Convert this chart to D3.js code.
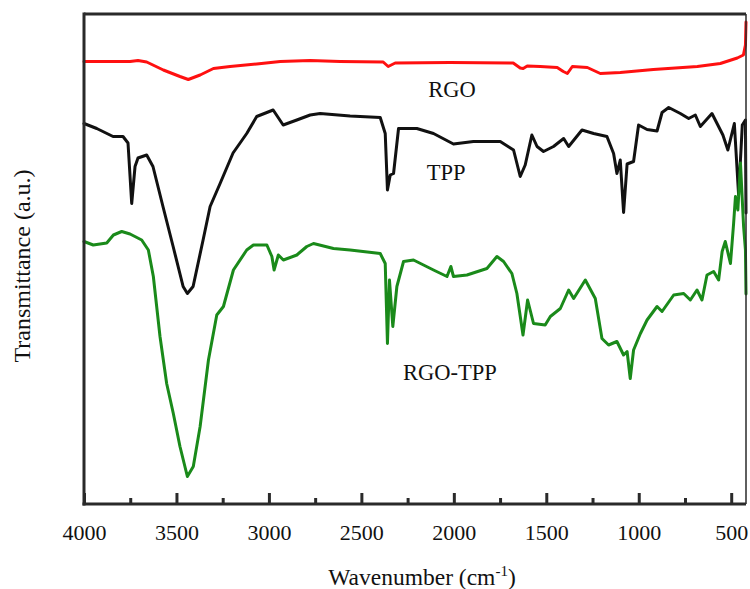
<!DOCTYPE html>
<html>
<head>
<meta charset="utf-8">
<script src="https://cdn.jsdelivr.net/npm/d3@7"></script>
<style>
  html, body { margin: 0; padding: 0; background: #fff; }
  svg { display: block; }
</style>
</head>
<body>
<div id="chart"></div>
<script>
// ---- data (wavenumber in cm-1, transmittance in arbitrary units) ----
const rgoWn = [4000,3751,3708,3661,3571,3481,3436,3372,3300,3210,3066,2939,2777,2615,2382,2355,2317,2020,1679,1641,1625,1603,1533,1441,1408,1386,1359,1278,1208,1100,921,683,559,467,434,423,420];
const rgoT  = [88.5,88.5,88.7,88.4,86.8,85.5,84.9,85.8,87.1,87.5,88.0,88.5,88.7,88.5,88.4,87.5,88.2,88.3,88.2,87.2,87.1,87.6,87.5,87.3,86.5,86.1,87.5,87.3,86.1,86.3,86.9,87.5,88.1,89.2,89.8,91.8,96.4];

const tppWn = [4000,3931,3843,3789,3762,3742,3724,3708,3661,3627,3573,3518,3464,3441,3410,3356,3318,3264,3194,3120,3066,2977,2923,2849,2777,2723,2561,2398,2371,2359,2344,2326,2299,2200,2110,2002,1894,1749,1677,1641,1614,1578,1550,1515,1461,1406,1379,1307,1244,1172,1136,1118,1100,1082,1063,1028,1001,955,901,874,838,775,730,694,667,604,545,518,483,460,440,423,420];
const tppT  = [76.1,75.1,73.5,73.5,72.2,60.1,67.5,69.2,69.8,67.5,59.5,51.5,43.5,42.1,43.5,52.8,59.5,64.1,70.2,74.1,77.5,78.8,75.8,76.8,77.8,78.1,77.6,77.3,74.1,62.8,65.8,66.1,75.1,75.1,74.1,72.0,72.5,72.5,70.8,65.5,67.8,73.8,71.5,70.5,71.5,73.1,71.5,74.8,74.1,73.5,70.1,66.1,68.8,58.3,68.0,68.5,75.8,74.9,74.6,78.3,79.3,78.1,77.1,77.8,75.5,78.1,73.8,70.8,76.1,61.8,75.8,76.8,58.2];

const rgoTppWn = [4000,3950,3877,3841,3796,3751,3688,3652,3625,3589,3553,3517,3481,3441,3409,3372,3327,3282,3246,3192,3120,3084,3011,2984,2972,2949,2922,2849,2795,2759,2651,2561,2398,2371,2359,2348,2330,2308,2272,2218,2110,2037,2016,2002,1929,1821,1767,1731,1686,1659,1626,1601,1569,1506,1478,1424,1379,1352,1289,1235,1199,1163,1118,1082,1063,1046,1028,991,955,901,874,811,757,721,685,658,631,595,568,549,532,504,487,477,464,450,433,423,420];
const rgoTppT  = [52.5,51.8,52.2,53.8,54.5,54.0,52.8,50.8,45.5,33.5,24.1,18.1,11.5,5.5,7.5,15.5,28.8,37.8,39.5,46.8,50.8,51.8,51.8,49.5,46.8,49.8,48.8,49.8,51.5,52.1,51.1,50.8,50.1,48.1,32.1,44.8,35.5,43.5,48.5,48.8,46.8,45.5,47.5,45.5,45.8,47.1,49.5,48.5,46.1,42.1,33.8,40.8,36.1,35.8,37.5,39.1,42.8,41.1,44.8,41.1,33.1,31.8,32.5,29.8,30.5,25.1,30.8,34.1,36.8,39.5,38.5,41.8,42.1,40.8,42.8,40.8,45.8,46.5,44.8,50.5,52.5,48.1,56.1,61.5,58.8,68.2,55.5,50.8,42.0];

const seriesNames  = ["RGO", "TPP", "RGO-TPP"];
const seriesColors = ["#ff1010", "#111111", "#1a8a1a"];
const majorTicks = [4000, 3500, 3000, 2500, 2000, 1500, 1000, 500];
const minorTicks = [3750, 3250, 2750, 2250, 1750, 1250, 750];
const labelPos = [ // [wavenumber, transmittance] anchor for series labels
  [2010, 81.4], [2042, 64.8], [2021, 24.8]
];
const xTitle = "Wavenumber (cm";
const yTitle = "Transmittance (a.u.)";

// ---- layout ----
const W = 750, H = 589;
const L = 84, R = 746, T = 14, B = 504;
const FONT = "'Liberation Serif', 'Times New Roman', serif";

const svg = d3.select("#chart").append("svg").attr("width", W).attr("height", H);

const x = d3.scaleLinear().domain([4000, 420]).range([L, R]);
const y = d3.scaleLinear().domain([0, 98]).range([B, T]);

const series = [
  { name: seriesNames[0], wn: rgoWn, t: rgoT, color: seriesColors[0] },
  { name: seriesNames[1], wn: tppWn, t: tppT, color: seriesColors[1] },
  { name: seriesNames[2], wn: rgoTppWn, t: rgoTppT, color: seriesColors[2] }
];

const line = d3.line().x(d => x(d[0])).y(d => y(d[1]));

svg.append("g").selectAll("path").data(series).join("path")
  .attr("d", s => line(s.wn.map((w, i) => [w, s.t[i]])))
  .attr("fill", "none")
  .attr("stroke", s => s.color)
  .attr("stroke-width", 3)
  .attr("stroke-linejoin", "round")
  .attr("stroke-linecap", "round");

// frame
const frame = svg.append("g").attr("stroke", "#2a2a2a").attr("fill", "none");
frame.append("line").attr("x1", L).attr("x2", R).attr("y1", T).attr("y2", T).attr("stroke-width", 3);
frame.append("line").attr("x1", L).attr("x2", L).attr("y1", T - 1.5).attr("y2", B + 1.5).attr("stroke-width", 3);
frame.append("line").attr("x1", R).attr("x2", R).attr("y1", T).attr("y2", B).attr("stroke-width", 1.5);

// bottom axis: major ticks inward with labels
const axMajor = d3.axisBottom(x).tickValues(majorTicks).tickSizeInner(-11).tickSizeOuter(0).tickPadding(20)
  .tickFormat(d3.format("d"));
const gMaj = svg.append("g").attr("transform", `translate(0,${B})`).call(axMajor);
gMaj.select(".domain").attr("stroke", "#2a2a2a").attr("stroke-width", 3)
  .attr("d", `M${L - 1.5},0H${R}`);
gMaj.selectAll(".tick line").attr("stroke", "#2a2a2a").attr("stroke-width", 3);
gMaj.selectAll(".tick text").style("font-size", "22px").style("font-family", FONT).attr("fill", "#111");

const axMinor = d3.axisBottom(x).tickValues(minorTicks).tickSizeInner(-6).tickSizeOuter(0).tickFormat("");
const gMin = svg.append("g").attr("transform", `translate(0,${B})`).call(axMinor);
gMin.select(".domain").remove();
gMin.selectAll(".tick line").attr("stroke", "#2a2a2a").attr("stroke-width", 3);

// axis titles
const xt = svg.append("text").attr("x", 422).attr("y", 585).attr("text-anchor", "middle")
  .style("font-size", "23.5px").style("font-family", FONT).attr("fill", "#111");
xt.append("tspan").text(xTitle);
xt.append("tspan").style("font-size", "15px").attr("dy", -9).text("-1");
xt.append("tspan").attr("dy", 9).text(")");

svg.append("text")
  .attr("transform", "translate(30,266) rotate(-90)")
  .attr("text-anchor", "middle")
  .style("font-size", "24px").style("font-family", FONT).attr("fill", "#111")
  .text(yTitle);

// series labels
svg.append("g").selectAll("text").data(series).join("text")
  .attr("x", (s, i) => x(labelPos[i][0]))
  .attr("y", (s, i) => y(labelPos[i][1]))
  .attr("text-anchor", "middle")
  .style("font-size", "22.5px").style("font-family", FONT).attr("fill", "#111")
  .text(s => s.name);
</script>
</body>
</html>
